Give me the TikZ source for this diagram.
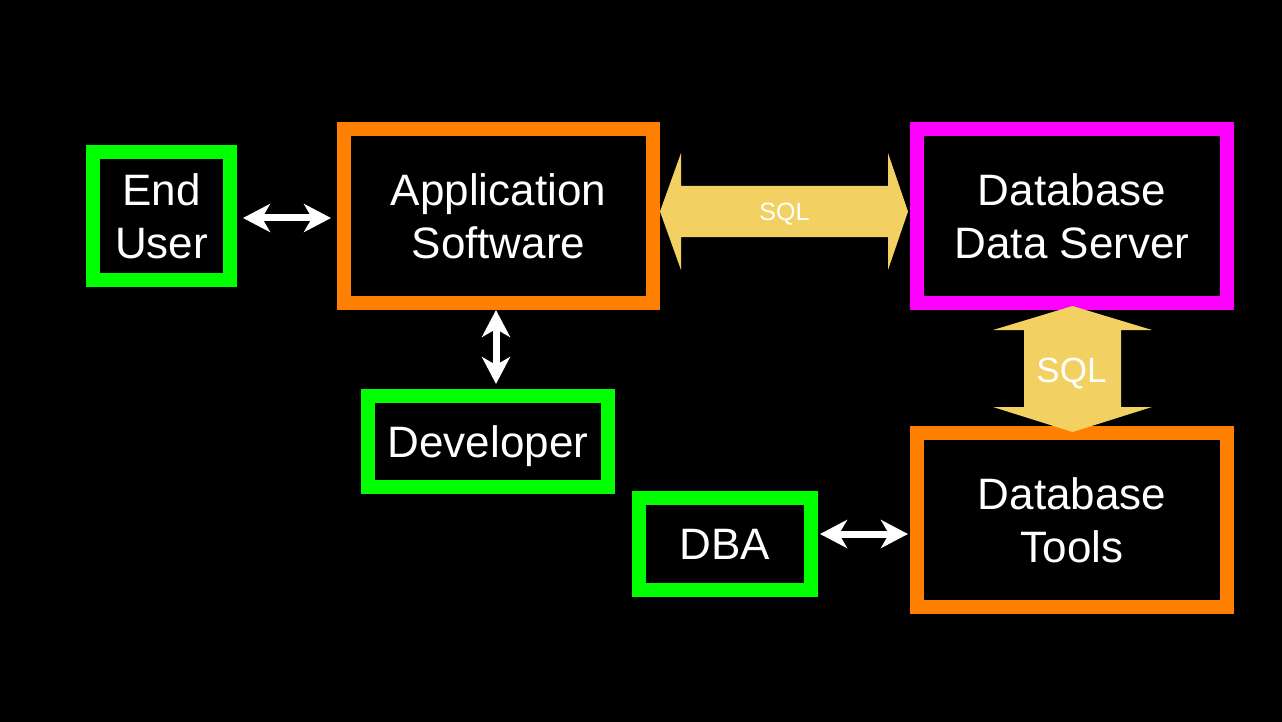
\documentclass[tikz,border=0pt]{standalone}
\usepackage{fontspec}
\setmainfont{Liberation Sans}
\usetikzlibrary{arrows.meta,calc}
\definecolor{grn}{HTML}{00FF00}
\definecolor{org}{HTML}{FF8000}
\definecolor{mag}{HTML}{FF00FF}
\definecolor{gold}{HTML}{F2D062}
\tikzset{
  box/.style={draw, line width=14pt, fill=black, inner sep=0pt, text=white,
    align=center, font=\fontsize{44pt}{53pt}\selectfont},
  wa/.style={draw=white, line width=7pt, {Stealth[length=27pt,width=28pt,inset=8pt]}-{Stealth[length=27pt,width=28pt,inset=8pt]}},
  fat/.style={fill=gold},
  sqltext/.style={text=white, inner sep=0pt, anchor=base}
}
\begin{document}
\begin{tikzpicture}[x=1pt,y=-1pt]
\useasboundingbox[fill=black] (0,0) rectangle (1282,722);
\node[box, draw=grn, minimum width=137pt, minimum height=128pt] (eu) at (161.5,216) {End\\User};
\node[box, draw=org, minimum width=309pt, minimum height=174pt] (app) at (498.5,216) {Application\\Software};
\node[box, draw=mag, minimum width=310pt, minimum height=174pt] (dds) at (1072,216) {Database\\Data Server};
\node[box, draw=org, minimum width=310pt, minimum height=174pt] (tools) at (1072,520) {Database\\Tools};
\node[box, draw=grn, minimum width=240pt, minimum height=91pt, text depth=0pt] (dev) at (488,441.5) {Developer};
\node[box, draw=grn, minimum width=172pt, minimum height=92pt] (dba) at (725,544) {DBA};
% fat SQL arrows
\coordinate (hl) at (app.east |- 0,211.5);
\coordinate (hr) at ([xshift=-2pt]dds.west |- 0,211.5);
\fill[fat] (hl) -- ++(21,-58.5) -- ++(0,33) -- ($(hr)+(-20,-25.5)$) -- ++(0,-33) -- (hr)
  -- ++(-20,58.5) -- ++(0,-33) -- ($(hl)+(21,25.5)$) -- ++(0,33) -- cycle;
\node[sqltext, font=\fontsize{25pt}{30pt}\selectfont] (sql1) at (784.5,221) {SQL};
\coordinate (vt) at ([yshift=4pt]dds.south -| 1072.5,0);
\coordinate (vb) at ([yshift=-6pt]tools.north -| 1072.5,0);
\fill[fat] (vt) -- ++(79.5,24) -- ++(-31,0) -- ($(vb)+(48.5,-25)$) -- ++(31,0) -- (vb)
  -- ++(-79.5,-25) -- ++(31,0) -- ($(vt)+(-48.5,24)$) -- ++(-31,0) -- cycle;
\node[sqltext, font=\fontsize{35pt}{42pt}\selectfont] (sql2) at (1071.5,382) {SQL};
% white arrows
\draw[wa, shorten <=6pt, shorten >=6pt] ([yshift=-2pt]eu.east) -- ([yshift=-2pt]app.west);
\draw[wa, shorten >=5pt] ([xshift=-2.5pt]app.south) -- ([xshift=8pt]dev.north);
\draw[wa, shorten <=2pt, shorten >=2pt] ([yshift=10pt]dba.east) -- ([yshift=-14pt]tools.west);
\end{tikzpicture}
\end{document}
